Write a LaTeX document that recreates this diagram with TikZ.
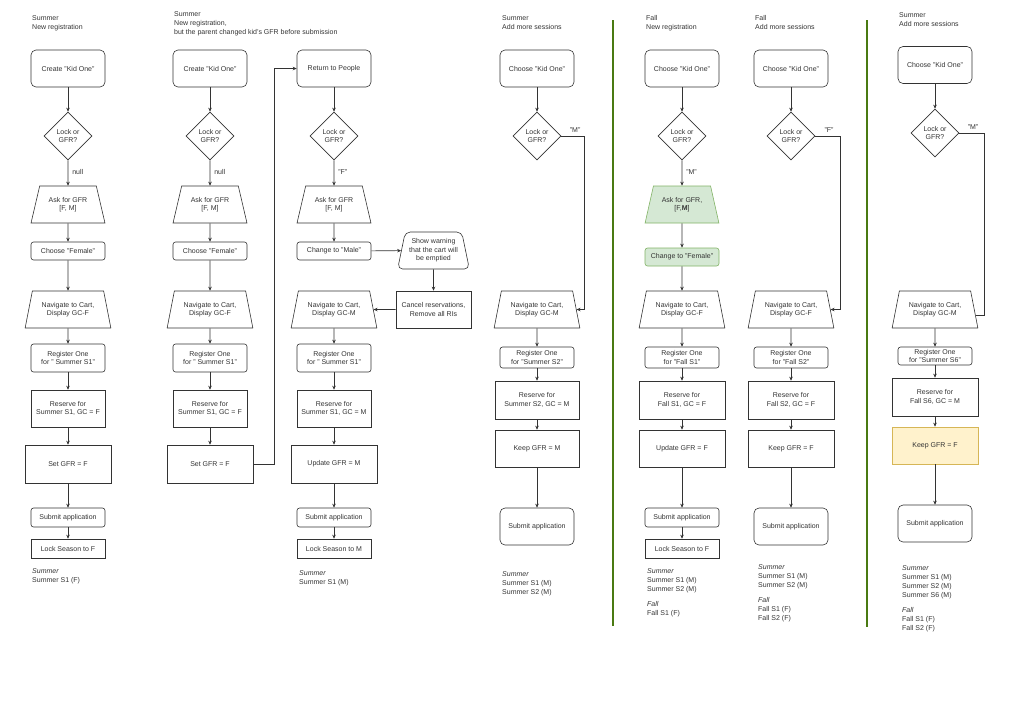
\documentclass[tikz,border=0pt]{standalone}
\usepackage{fontspec}
\setmainfont{Liberation Sans}
\usetikzlibrary{shapes.geometric,arrows.meta}
\definecolor{ln}{HTML}{333333}
\definecolor{gfill}{HTML}{D5E8D4}\definecolor{gdraw}{HTML}{82B366}
\definecolor{yfill}{HTML}{FFF2CC}\definecolor{ydraw}{HTML}{D6B656}
\definecolor{sep}{HTML}{4A7A12}
\begin{document}
\begin{tikzpicture}[x=1pt,y=-1pt,
  every node/.style={font=\fontsize{7}{8.5}\selectfont,align=center,inner sep=1pt,text=ln},
  base/.style={draw=ln,line width=0.6pt},
  rbox/.style={base,rectangle,rounded corners=5pt,minimum width=74pt,minimum height=37pt},
  sbox/.style={base,rectangle,rounded corners=2.5pt,minimum width=74pt},
  rect/.style={base,rectangle,minimum width=74pt,minimum height=37pt},
  wrect/.style={base,rectangle,minimum width=86pt,minimum height=37pt},
  dia/.style={base,diamond,minimum width=48pt,minimum height=48pt,inner sep=0pt},
  trap/.style={base,trapezium,trapezium left angle=70,trapezium right angle=70,trapezium stretches=true,minimum width=74pt,minimum height=37pt},
  wtrap/.style={base,trapezium,trapezium left angle=72,trapezium right angle=72,trapezium stretches=true,minimum width=86pt,minimum height=37pt},
  green/.style={fill=gfill,draw=gdraw},
  yel/.style={fill=yfill,draw=ydraw},
  arr/.style={draw=ln,line width=0.6pt,-{Stealth[length=4pt,width=3.5pt]}},
  lin/.style={draw=ln,line width=0.6pt},
  lab/.style={anchor=west},
  txt/.style={anchor=north west,align=left,font=\fontsize{7}{9}\selectfont}]
\useasboundingbox (0,0) rectangle (1024,724);
\draw[sep,line width=1.6pt] (613,20) -- (613,626);
\draw[sep,line width=1.6pt] (867,20) -- (867,627);

% ---------- column 1
\node[txt] (t1) at (31,14) {Summer\\New registration};
\node[rbox] (a1) at (68,68.5) {Create "Kid One"};
\node[dia] (b1) at (68,136) {Lock or\\GFR?};
\node[trap] (c1) at (68,204.5) {Ask for GFR\\{[F, M]}};
\node[sbox,minimum height=18pt] (d1) at (68,251) {Choose "Female"};
\node[wtrap] (e1) at (68,309.5) {Navigate to Cart,\\Display GC-F};
\node[sbox,minimum height=28pt] (f1) at (68,358) {Register One\\for " Summer S1"};
\node[rect] (g1) at (68,408.5) {Reserve for\\Summer S1, GC = F};
\node[wrect,minimum height=38pt] (h1) at (68,464) {Set GFR = F};
\node[sbox,minimum height=19pt] (i1) at (68,517.5) {Submit application};
\node[rect,minimum height=19pt] (j1) at (68,548.5) {Lock Season to F};
\node[txt] (s1) at (31,567) {\textit{Summer}\\Summer S1 (F)};
\draw[arr] (a1) -- (b1); \draw[arr] (b1) -- node[lab,pos=0.45,xshift=3pt]{null} (c1);
\draw[arr] (c1) -- (d1); \draw[arr] (d1) -- (e1); \draw[arr] (e1) -- (f1);
\draw[arr] (f1) -- (g1); \draw[arr] (g1) -- (h1); \draw[arr] (h1) -- (i1); \draw[arr] (i1) -- (j1);

% ---------- column 2
\node[txt] (t2) at (173,10) {Summer\\New registration,\\but the parent changed kid's GFR before submission};
\node[rbox] (a2) at (210,68.5) {Create "Kid One"};
\node[dia] (b2) at (210,136) {Lock or\\GFR?};
\node[trap] (c2) at (210,204.5) {Ask for GFR\\{[F, M]}};
\node[sbox,minimum height=18pt] (d2) at (210,251) {Choose "Female"};
\node[wtrap] (e2) at (210,309.5) {Navigate to Cart,\\Display GC-F};
\node[sbox,minimum height=28pt] (f2) at (210,358) {Register One\\for " Summer S1"};
\node[rect] (g2) at (210,408.5) {Reserve for\\Summer S1, GC = F};
\node[wrect,minimum height=38pt] (h2) at (210,464) {Set GFR = F};
\draw[arr] (a2) -- (b2); \draw[arr] (b2) -- node[lab,pos=0.45,xshift=3pt]{null} (c2);
\draw[arr] (c2) -- (d2); \draw[arr] (d2) -- (e2); \draw[arr] (e2) -- (f2);
\draw[arr] (f2) -- (g2); \draw[arr] (g2) -- (h2);

% ---------- column 3
\node[rbox] (a3) at (334,68.5) {Return to People};
\node[dia] (b3) at (334,136) {Lock or\\GFR?};
\node[trap] (c3) at (334,204.5) {Ask for GFR\\{[F, M]}};
\node[sbox,minimum height=18pt] (d3) at (334,251) {Change to "Male"};
\node[base,trapezium,trapezium left angle=75,trapezium right angle=75,trapezium stretches=true,rounded corners=5pt,minimum width=72pt,minimum height=37pt] (w3) at (433.5,250.5) {Show warning\\that the cart will\\be emptied};
\node[rect,minimum width=75pt] (x3) at (433.5,309.5) {Cancel reservations,\\Remove all RIs};
\node[wtrap] (e3) at (334,309.5) {Navigate to Cart,\\Display GC-M};
\node[sbox,minimum height=28pt] (f3) at (334,358) {Register One\\for " Summer S1"};
\node[rect] (g3) at (334,408.5) {Reserve for\\Summer S1, GC = M};
\node[wrect,minimum height=38pt] (h3) at (334,464) {Update GFR = M};
\node[sbox,minimum height=19pt] (i3) at (334,517.5) {Submit application};
\node[rect,minimum height=19pt] (j3) at (334,548.5) {Lock Season to M};
\node[txt] (s3) at (298,569) {\textit{Summer}\\Summer S1 (M)};
\draw[arr] (h2.east) -- ++(21,0) |- (a3.west);
\draw[arr] (a3) -- (b3); \draw[arr] (b3) -- node[lab,pos=0.45,xshift=3pt]{"F"} (c3);
\draw[arr] (c3) -- (d3); \draw[arr] (d3) -- (w3); \draw[arr] (w3) -- (x3); \draw[arr] (x3) -- (e3);
\draw[arr] (e3) -- (f3);
\draw[arr] (f3) -- (g3); \draw[arr] (g3) -- (h3); \draw[arr] (h3) -- (i3); \draw[arr] (i3) -- (j3);

% ---------- column 4
\node[txt] (t4) at (501,14) {Summer\\Add more sessions};
\node[rbox] (a4) at (537,68.5) {Choose "Kid One"};
\node[dia] (b4) at (537,136) {Lock or\\GFR?};
\node[wtrap] (e4) at (537,309.5) {Navigate to Cart,\\Display GC-M};
\node[sbox,minimum height=21pt] (f4) at (537,357.5) {Register One\\for "Summer S2"};
\node[wrect,minimum width=84pt,minimum height=38pt] (g4) at (537,400) {Reserve for\\Summer S2, GC = M};
\node[wrect,minimum width=84pt,minimum height=37pt] (h4) at (537,448.5) {Keep GFR = M};
\node[rbox] (i4) at (537,526.5) {Submit application};
\node[txt] (s4) at (501,570) {\textit{Summer}\\Summer S1 (M)\\Summer S2 (M)};
\draw[arr] (a4) -- (b4);
\draw[arr] (b4.east) -- node[above,pos=0.6,yshift=2pt]{"M"} ++(23,0) |- (e4.east);
\draw[arr] (e4) -- (f4); \draw[arr] (f4) -- (g4); \draw[arr] (g4) -- (h4); \draw[arr] (h4) -- (i4);

% ---------- column 5
\node[txt] (t5) at (645,14) {Fall\\New registration};
\node[rbox] (a5) at (682,68.5) {Choose "Kid One"};
\node[dia] (b5) at (682,136) {Lock or\\GFR?};
\node[trap,green] (c5) at (682,204.5) {Ask for GFR,\\{[F,\textbf{M}]}};
\node[sbox,green,minimum height=18pt] (d5) at (682,257) {Change to "Female"};
\node[wtrap] (e5) at (682,309.5) {Navigate to Cart,\\Display GC-F};
\node[sbox,minimum height=21pt] (f5) at (682,357.5) {Register One\\for "Fall S1"};
\node[wrect,minimum height=38pt] (g5) at (682,400) {Reserve for\\Fall S1, GC = F};
\node[wrect,minimum height=37pt] (h5) at (682,448.5) {Update GFR = F};
\node[sbox,minimum height=19pt] (i5) at (682,517.5) {Submit application};
\node[rect,minimum height=19pt] (j5) at (682,548.5) {Lock Season to F};
\node[txt] (s5) at (646,567) {\textit{Summer}\\Summer S1 (M)\\Summer S2 (M)\\[6pt]\textit{Fall}\\Fall S1 (F)};
\draw[arr] (a5) -- (b5); \draw[arr] (b5) -- node[lab,pos=0.45,xshift=3pt]{"M"} (c5);
\draw[arr] (c5) -- (d5); \draw[arr] (d5) -- (e5); \draw[arr] (e5) -- (f5);
\draw[arr] (f5) -- (g5); \draw[arr] (g5) -- (h5); \draw[arr] (h5) -- (i5); \draw[arr] (i5) -- (j5);

% ---------- column 6
\node[txt] (t6) at (754,14) {Fall\\Add more sessions};
\node[rbox] (a6) at (791,68.5) {Choose "Kid One"};
\node[dia] (b6) at (791,136) {Lock or\\GFR?};
\node[wtrap] (e6) at (791,309.5) {Navigate to Cart,\\Display GC-F};
\node[sbox,minimum height=21pt] (f6) at (791,357.5) {Register One\\for "Fall S2"};
\node[wrect,minimum height=38pt] (g6) at (791,400) {Reserve for\\Fall S2, GC = F};
\node[wrect,minimum height=37pt] (h6) at (791,448.5) {Keep GFR = F};
\node[rbox] (i6) at (791,526.5) {Submit application};
\node[txt] (s6) at (757,563) {\textit{Summer}\\Summer S1 (M)\\Summer S2 (M)\\[6pt]\textit{Fall}\\Fall S1 (F)\\Fall S2 (F)};
\draw[arr] (a6) -- (b6);
\draw[arr] (b6.east) -- node[above,pos=0.55,yshift=2pt]{"F"} ++(25,0) |- (e6.east);
\draw[arr] (e6) -- (f6); \draw[arr] (f6) -- (g6); \draw[arr] (g6) -- (h6); \draw[arr] (h6) -- (i6);

% ---------- column 7
\node[txt] (t7) at (898,11) {Summer\\Add more sessions};
\node[rbox] (a7) at (935,65) {Choose "Kid One"};
\node[dia] (b7) at (935,133) {Lock or\\GFR?};
\node[wtrap] (e7) at (935,309.5) {Navigate to Cart,\\Display GC-M};
\node[sbox,minimum height=18pt] (f7) at (935,356) {Register One\\for "Summer S6"};
\node[wrect,minimum height=38pt] (g7) at (935,397) {Reserve for\\Fall S6, GC = M};
\node[wrect,yel,minimum height=37pt] (h7) at (935,445.5) {Keep GFR = F};
\node[rbox] (i7) at (935,523.5) {Submit application};
\node[txt] (s7) at (901,564) {\textit{Summer}\\Summer S1 (M)\\Summer S2 (M)\\Summer S6 (M)\\[6pt]\textit{Fall}\\Fall S1 (F)\\Fall S2 (F)};
\draw[arr] (a7) -- (b7);
\draw[lin] (b7.east) -- node[above,pos=0.55,yshift=2pt]{"M"} ++(25,0) |- ([xshift=1.5pt,yshift=-6pt]e7.east);
\draw[arr] (e7) -- (f7); \draw[arr] (f7) -- (g7); \draw[arr] (g7) -- (h7); \draw[arr] (h7) -- (i7);
\end{tikzpicture}
\end{document}
